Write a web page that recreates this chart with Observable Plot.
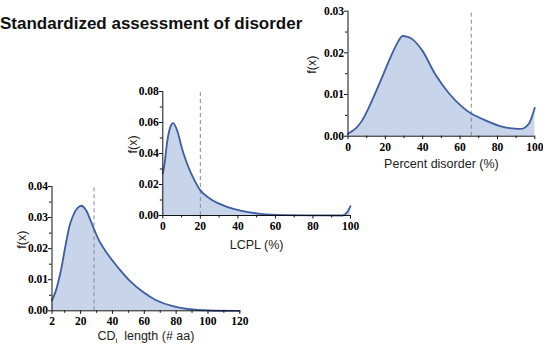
<!DOCTYPE html>
<html><head><meta charset="utf-8">
<script src="https://cdn.jsdelivr.net/npm/d3@7"></script>
<script src="https://cdn.jsdelivr.net/npm/@observablehq/plot@0.6"></script>
<style>
html,body{margin:0;padding:0;background:#fff;}
#wrap{position:relative;width:543px;height:346px;overflow:hidden;background:#fff;}
#title{position:absolute;left:0;top:14.5px;font:bold 17px "Liberation Sans",Arial,sans-serif;line-height:17px;color:#111;white-space:nowrap;}
.panel{position:absolute;}
</style></head><body>
<div id="wrap"><div id="title">Standardized assessment of disorder</div></div>
<script>
// ---- Panel A: Percent disorder ----
const disorderX = [0, 4, 7.6, 12.9, 18.3, 22.8, 27.2, 29, 31.5, 34.4, 39.7, 46.8, 54, 61, 65.7, 73.6, 82.5, 89.7, 94.1, 96.8, 98.5, 100];
const disorderY = [0.0006, 0.0018, 0.0038, 0.0086, 0.0142, 0.019, 0.023, 0.024, 0.0239, 0.0233, 0.0206, 0.0148, 0.0103, 0.0071, 0.0055, 0.0038, 0.0023, 0.0018, 0.0019, 0.003, 0.0047, 0.0068];
const disorderCut = 66;
const disorderXTicks = [0, 20, 40, 60, 80, 100];
const disorderXMinor = [10, 30, 50, 70, 90];
const disorderYTicks = [0, 0.01, 0.02, 0.03];
const disorderYMinor = [0.005, 0.015, 0.025];

// ---- Panel B: LCPL ----
const lcplX = [0, 1, 2.3, 4, 5.5, 7.7, 10.3, 13, 16.5, 19.7, 25.4, 32.5, 41.4, 52, 64.5, 82, 95.6, 98.2, 100];
const lcplY = [0.027, 0.034, 0.0472, 0.057, 0.0596, 0.0547, 0.0429, 0.0332, 0.0236, 0.0167, 0.0107, 0.0064, 0.0032, 0.0011, 0.0003, 0.0001, 0.0, 0.002, 0.006];
const lcplCut = 20;
const lcplXTicks = [0, 20, 40, 60, 80, 100];
const lcplXMinor = [10, 30, 50, 70, 90];
const lcplYTicks = [0, 0.02, 0.04, 0.06, 0.08];
const lcplYMinor = [0.01, 0.03, 0.05, 0.07];

// ---- Panel C: CDi length ----
const cdiX = [2, 4.2, 7.4, 10.5, 13.7, 17.9, 20.6, 23.2, 26.3, 28.4, 31.6, 36.9, 43.2, 50.6, 59, 67.4, 77.9, 88.5, 101, 120];
const cdiY = [0.0034, 0.0061, 0.0125, 0.021, 0.0285, 0.033, 0.0338, 0.0325, 0.029, 0.0263, 0.0226, 0.0183, 0.0141, 0.0098, 0.0061, 0.0034, 0.0015, 0.0005, 0.0001, 0];
const cdiCut = 28.4;
const cdiXTicks = [2, 20, 40, 60, 80, 100, 120];
const cdiXMinor = [10, 30, 50, 70, 90, 110];
const cdiYTicks = [0, 0.01, 0.02, 0.03, 0.04];
const cdiYMinor = [0.005, 0.015, 0.025, 0.035];

const fillColor = "#c7d4ea";
const lineColor = "#3f5e9f";
const tickFont = {fontFamily: "'Liberation Serif', 'Times New Roman', serif", fontSize: 11.5, fontWeight: "bold", fill: "#000"};

function panel(o) {
  const data = o.xs.map((x, i) => ({x, y: o.ys[i]}));
  const svg = Plot.plot({
    width: o.width, height: o.height,
    marginLeft: o.ml, marginRight: o.mr, marginTop: o.mt, marginBottom: o.mb,
    style: {background: "transparent", overflow: "visible", fontFamily: "'Liberation Serif', 'Times New Roman', serif", fontSize: "11.5px", fontWeight: "bold", color: "#000"},
    x: {domain: o.xDomain},
    y: {domain: o.yDomain, clamp: true},
    marks: [
      Plot.areaY(data, {x: "x", y: "y", fill: fillColor, curve: o.curve}),
      Plot.ruleX([o.cut], {y1: o.yDomain[0], y2: o.yDomain[1], stroke: "#8a8a8a", strokeDasharray: "4,3", strokeWidth: 1}),
      Plot.lineY(data, {x: "x", y: "y", stroke: lineColor, strokeWidth: 1.8, curve: o.curve}),
      Plot.ruleX([o.xDomain[0]], {y1: o.yDomain[0], y2: o.yDomain[1], stroke: "#111"}),
      Plot.ruleY([o.yDomain[0]], {x1: o.xDomain[0], x2: o.xDomain[1], stroke: "#111"}),
      Plot.axisY(o.yTicks, {tickSize: 3.5, tickPadding: 0.5, tickFormat: d3.format(".2f"), label: null, ...tickFont, stroke: "#111"}),
      Plot.axisY(o.yMinor, {tickSize: 2.5, tickFormat: () => "", label: null, stroke: "#111"}),
      Plot.axisX(o.xTicks, {tickSize: 3.5, tickPadding: 3, tickFormat: d => String(d), label: null, ...tickFont, stroke: "#111"}),
      Plot.axisX(o.xMinor, {tickSize: 2.5, tickFormat: () => "", label: null, stroke: "#111"}),
      Plot.text([o.xLabel], {text: d => d, frameAnchor: "bottom", lineAnchor: "bottom", dy: o.labelDy, dx: o.labelDx || 0,
        fontFamily: "'Liberation Sans', Arial, sans-serif", fontSize: 12.5, fontWeight: "normal", fill: "#222"}),
      Plot.text(["f(x)"], {text: d => d, frameAnchor: "left", rotate: -90, dx: o.fxDx, dy: o.fxDy || 0,
        fontFamily: "'Liberation Sans', Arial, sans-serif", fontSize: 12.5, fontWeight: "normal", fill: "#222"})
    ]
  });
  svg.classList.add("panel");
  svg.style.left = o.left + "px";
  svg.style.top = o.top + "px";
  document.getElementById("wrap").appendChild(svg);
  return svg;
}

panel({xs: disorderX, ys: disorderY, cut: disorderCut, xDomain: [0, 100], yDomain: [0, 0.03], curve: "catmull-rom",
  xTicks: disorderXTicks, xMinor: disorderXMinor, yTicks: disorderYTicks, yMinor: disorderYMinor,
  xLabel: "Percent disorder (%)", left: 300, top: 0, width: 243, height: 175,
  ml: 47.5, mr: 8.7, mt: 10.7, mb: 39.3, labelDy: 31.3, fxDx: -36.5});

panel({xs: lcplX, ys: lcplY, cut: lcplCut, xDomain: [0, 100], yDomain: [0, 0.08], curve: "monotone-x",
  xTicks: lcplXTicks, xMinor: lcplXMinor, yTicks: lcplYTicks, yMinor: lcplYMinor,
  xLabel: "LCPL (%)", left: 110, top: 80, width: 250, height: 175,
  ml: 52.3, mr: 10, mt: 11, mb: 40, labelDy: 33, fxDx: -30});

const c = panel({xs: cdiX, ys: cdiY, cut: cdiCut, xDomain: [2, 120], yDomain: [0, 0.04], curve: "catmull-rom",
  xTicks: cdiXTicks, xMinor: cdiXMinor, yTicks: cdiYTicks, yMinor: cdiYMinor,
  xLabel: "CDi length (# aa)", left: 0, top: 175, width: 255, height: 171,
  ml: 51.5, mr: 15.7, mt: 11, mb: 35.7, labelDy: 29, fxDx: -30});

// subscript i in the CDi label
d3.select(c).selectAll("text").filter(function() { return this.textContent === "CDi length (# aa)"; })
  .each(function() {
    const t = d3.select(this);
    t.text(null);
    t.append("tspan").text("CD");
    t.append("tspan").attr("font-size", 8).attr("dy", 3).text("i");
    t.append("tspan").attr("dy", -3).text("\u00a0 length (# aa)");
  });
</script>
</body></html>
